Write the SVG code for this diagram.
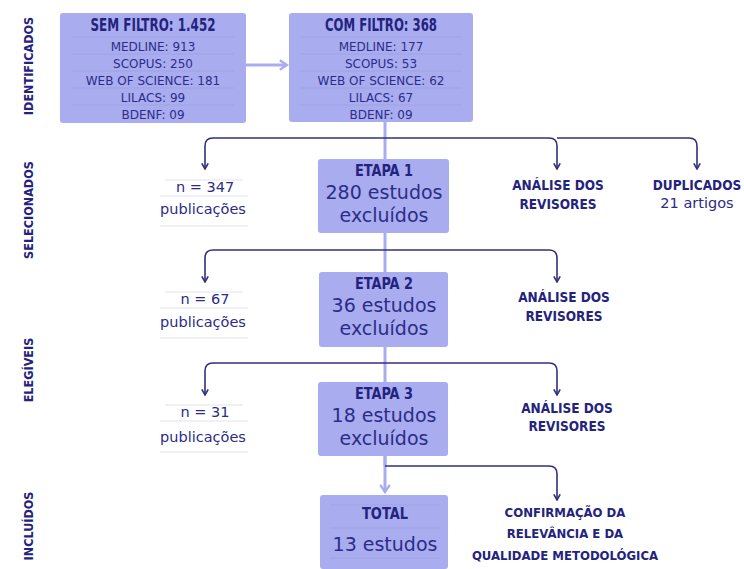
<svg xmlns="http://www.w3.org/2000/svg" width="744" height="569" viewBox="0 0 744 569">
<defs>
<style>
.box{fill:#a9acef;}
.rule{stroke:#9598d8;stroke-width:0.7;opacity:0.6;}
.wrule{stroke:#dcdce6;stroke-width:0.8;}
.h{font-family:"DejaVu Sans Condensed","DejaVu Sans",sans-serif;font-weight:bold;fill:#23237e;text-anchor:middle;}
.t{font-family:"DejaVu Sans","Noto Sans",sans-serif;fill:#2c2c88;text-anchor:middle;}
.side{font-family:"DejaVu Sans Condensed","DejaVu Sans",sans-serif;font-weight:bold;fill:#23237e;font-size:12.5px;text-anchor:middle;}
.dark{fill:none;stroke:#30307e;stroke-width:1.6;}
.light{fill:none;stroke:#a9acef;stroke-width:3;}
</style>
<marker id="ad" viewBox="0 0 10 10" refX="9" refY="5" markerWidth="8" markerHeight="8" orient="auto" markerUnits="userSpaceOnUse">
<path d="M2,1 L9,5 L2,9" fill="none" stroke="#30307e" stroke-width="2"/>
</marker>
<marker id="al" viewBox="0 0 10 10" refX="8" refY="5" markerWidth="12" markerHeight="12" orient="auto" markerUnits="userSpaceOnUse">
<path d="M2,1 L8,5 L2,9" fill="none" stroke="#a9acef" stroke-width="2"/>
</marker>
</defs>

<g id="side-labels">
<text class="side" transform="translate(33,66) rotate(-90)">IDENTIFICADOS</text>
<text class="side" transform="translate(33,210) rotate(-90)">SELECIONADOS</text>
<text class="side" transform="translate(33,370) rotate(-90)">ELEGÍVEIS</text>
<text class="side" transform="translate(33,526) rotate(-90)">INCLUÍDOS</text>
</g>

<g id="connectors">
<path class="light" d="M246,65 H287" marker-end="url(#al)"/>
<path class="light" d="M385,122 V466"/>
<path class="light" d="M385,456 V492" marker-end="url(#al)"/>
<path class="dark" d="M385,138 H213 Q205,138 205,146 V169" marker-end="url(#ad)"/>
<path class="dark" d="M385,138 H549 Q557,138 557,146 V169" marker-end="url(#ad)"/>
<path class="dark" d="M557,138 H689 Q697,138 697,146 V169" marker-end="url(#ad)"/>
<path class="dark" d="M385,250 H213 Q205,250 205,258 V282" marker-end="url(#ad)"/>
<path class="dark" d="M385,250 H549 Q557,250 557,258 V282" marker-end="url(#ad)"/>
<path class="dark" d="M385,363 H213 Q205,363 205,371 V395" marker-end="url(#ad)"/>
<path class="dark" d="M385,363 H549 Q557,363 557,371 V395" marker-end="url(#ad)"/>
<path class="dark" d="M385,466 H549 Q557,466 557,474 V500" marker-end="url(#ad)"/>
</g>

<g id="sem-filtro">
<rect class="box" x="60" y="13" width="186" height="110" rx="3"/>
<g class="rule">
<line x1="72" y1="37" x2="234" y2="37"/><line x1="72" y1="54" x2="234" y2="54"/><line x1="72" y1="71" x2="234" y2="71"/><line x1="72" y1="88" x2="234" y2="88"/><line x1="72" y1="105" x2="234" y2="105"/>
</g>
<text class="h" x="153" y="31" font-size="17" textLength="125" lengthAdjust="spacingAndGlyphs">SEM FILTRO: 1.452</text>
<text class="t" x="153" y="51" font-size="12">MEDLINE: 913</text>
<text class="t" x="153" y="68" font-size="12">SCOPUS: 250</text>
<text class="t" x="153" y="85" font-size="12">WEB OF SCIENCE: 181</text>
<text class="t" x="153" y="102" font-size="12">LILACS: 99</text>
<text class="t" x="153" y="119" font-size="12">BDENF: 09</text>
</g>

<g id="com-filtro">
<rect class="box" x="289" y="13" width="184" height="109" rx="3"/>
<g class="rule">
<line x1="300" y1="37" x2="462" y2="37"/><line x1="300" y1="54" x2="462" y2="54"/><line x1="300" y1="71" x2="462" y2="71"/><line x1="300" y1="88" x2="462" y2="88"/><line x1="300" y1="105" x2="462" y2="105"/>
</g>
<text class="h" x="381" y="31" font-size="17" textLength="112" lengthAdjust="spacingAndGlyphs">COM FILTRO: 368</text>
<text class="t" x="381" y="51" font-size="12">MEDLINE: 177</text>
<text class="t" x="381" y="68" font-size="12">SCOPUS: 53</text>
<text class="t" x="381" y="85" font-size="12">WEB OF SCIENCE: 62</text>
<text class="t" x="381" y="102" font-size="12">LILACS: 67</text>
<text class="t" x="381" y="119" font-size="12">BDENF: 09</text>
</g>

<g id="n347">
<g class="wrule"><line x1="165" y1="180" x2="243" y2="180"/><line x1="160" y1="196" x2="248" y2="196"/><line x1="160" y1="226" x2="248" y2="226"/></g>
<text class="t" x="205" y="192" font-size="14.5">n = 347</text>
<text class="t" x="203" y="214" font-size="14.5">publicações</text>
</g>

<g id="etapa1">
<rect class="box" x="318" y="159" width="131" height="74" rx="3"/>
<text class="h" x="384" y="176" font-size="16" textLength="58" lengthAdjust="spacingAndGlyphs">ETAPA 1</text>
<text class="t" x="384" y="199" font-size="19">280 estudos</text>
<text class="t" x="384" y="222" font-size="19">excluídos</text>
</g>

<g id="analise1">
<text class="h" x="558" y="190" font-size="13.5">ANÁLISE DOS</text>
<text class="h" x="558" y="209" font-size="13.5">REVISORES</text>
</g>

<g id="duplicados">
<text class="h" x="697" y="190" font-size="13.5">DUPLICADOS</text>
<text class="t" x="697" y="208" font-size="14.5">21 artigos</text>
</g>

<g id="n67">
<g class="wrule"><line x1="165" y1="292" x2="243" y2="292"/><line x1="160" y1="308" x2="248" y2="308"/><line x1="160" y1="338" x2="248" y2="338"/></g>
<text class="t" x="205" y="304" font-size="14.5">n = 67</text>
<text class="t" x="203" y="327" font-size="14.5">publicações</text>
</g>

<g id="etapa2">
<rect class="box" x="319" y="272" width="129" height="75" rx="3"/>
<text class="h" x="384" y="289" font-size="16" textLength="58" lengthAdjust="spacingAndGlyphs">ETAPA 2</text>
<text class="t" x="384" y="312" font-size="19">36 estudos</text>
<text class="t" x="384" y="335" font-size="19">excluídos</text>
</g>

<g id="analise2">
<text class="h" x="564" y="302" font-size="13.5">ANÁLISE DOS</text>
<text class="h" x="564" y="321" font-size="13.5">REVISORES</text>
</g>

<g id="n31">
<g class="wrule"><line x1="165" y1="405" x2="243" y2="405"/><line x1="160" y1="421" x2="248" y2="421"/><line x1="160" y1="452" x2="248" y2="452"/></g>
<text class="t" x="205" y="417" font-size="14.5">n = 31</text>
<text class="t" x="203" y="442" font-size="14.5">publicações</text>
</g>

<g id="etapa3">
<rect class="box" x="318" y="382" width="130" height="74" rx="3"/>
<text class="h" x="384" y="399" font-size="16" textLength="58" lengthAdjust="spacingAndGlyphs">ETAPA 3</text>
<text class="t" x="384" y="422" font-size="19">18 estudos</text>
<text class="t" x="384" y="445" font-size="19">excluídos</text>
</g>

<g id="analise3">
<text class="h" x="567" y="413" font-size="13.5">ANÁLISE DOS</text>
<text class="h" x="567" y="431" font-size="13.5">REVISORES</text>
</g>

<g id="total">
<rect class="box" x="320" y="495" width="128" height="74" rx="3"/>
<g class="rule"><line x1="330" y1="505" x2="440" y2="505"/><line x1="330" y1="528" x2="440" y2="528"/><line x1="330" y1="558" x2="440" y2="558"/></g>
<text class="h" x="385" y="519" font-size="16" textLength="46" lengthAdjust="spacingAndGlyphs">TOTAL</text>
<text class="t" x="385" y="551" font-size="19">13 estudos</text>
</g>

<g id="confirmacao">
<text class="h" x="565" y="517" font-size="13">CONFIRMAÇÃO DA</text>
<text class="h" x="565" y="538" font-size="13">RELEVÂNCIA E DA</text>
<text class="h" x="565" y="560" font-size="13">QUALIDADE METODOLÓGICA</text>
</g>
</svg>
